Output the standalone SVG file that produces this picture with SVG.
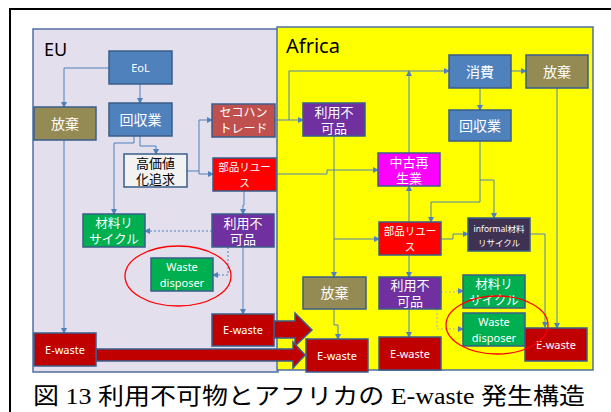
<svg xmlns="http://www.w3.org/2000/svg" width="611" height="412" viewBox="0 0 611 412">
<style>
.n{stroke:#385d8a;stroke-width:1.5}
.t{font-family:"Noto Sans","Noto Sans CJK JP",sans-serif;fill:#fff;text-anchor:middle}
.c{fill:none;stroke:#4f81bd;stroke-width:1;marker-end:url(#a)}
.d{fill:none;stroke:#4f81bd;stroke-width:1;stroke-dasharray:2 2;marker-end:url(#a)}
.dy{fill:none;stroke:#b8b89a;stroke-width:1.2;stroke-dasharray:2 2;marker-end:url(#a)}
.blue{fill:#4f81bd}.olive{fill:#948a54}.purple{fill:#7030a0}.green{fill:#00b050}.dred{fill:#c00000}.red{fill:#ff0000}
.big{fill:#c00000;stroke:#385d8a;stroke-width:1.5}
</style>
<defs>
<marker id="a" markerWidth="6" markerHeight="6" refX="5" refY="3" orient="auto" markerUnits="userSpaceOnUse">
<path d="M0,0 L6,3 L0,6 z" fill="#4f81bd"/>
</marker>
</defs>
<rect width="611" height="412" fill="#fff"/>
<path d="M10,412 V9 H611" fill="none" stroke="#000" stroke-width="2"/>

<g id="eu-region">
<rect x="33" y="29" width="245" height="343" fill="#e4dfec" stroke="#4f6fa0" stroke-width="1.5"/>
<text x="44" y="56" font-family="Noto Sans,Liberation Sans,sans-serif" font-size="18" fill="#000">EU</text>
</g>
<g id="africa-region">
<rect x="277" y="27" width="316" height="343" fill="#ffff00" stroke="#4f6fa0" stroke-width="1.5"/>
<text x="286" y="53" font-family="Noto Sans,Liberation Sans,sans-serif" font-size="20" fill="#000">Africa</text>
</g>

<g id="connectors">
<path class="c" d="M109,68 H64 V107"/>
<path class="c" d="M140,84 V103"/>
<path class="c" d="M134,136 V143 H114 V214"/>
<path class="c" d="M140,136 V146 H156 V154"/>
<path class="c" d="M187,171 H199 V120 H212"/>
<path class="c" d="M199,171 V174 H213"/>
<path class="c" d="M244,191 V205 H243 V214"/>
<path class="d" d="M212,231 H145"/>
<path class="d" d="M228,247 V275 H213"/>
<path class="c" d="M243,247 V314"/>
<path class="c" d="M64,140 V333"/>
<path class="c" d="M275,120 H303"/>
<path class="c" d="M289,120 V71 H449"/>
<path class="c" d="M409,153 V71"/>
<path class="c" d="M276,174 H327 V170 H378"/>
<path class="c" d="M409,222 V186"/>
<path class="c" d="M334,136 V277"/>
<path class="c" d="M334,239 H379"/>
<path class="c" d="M480,88 V110"/>
<path class="c" d="M511,71 H526"/>
<path class="c" d="M480,141 V202 H431 V222"/>
<path class="c" d="M480,180 H494 V218"/>
<path class="c" d="M441,239 H453 V234 H468"/>
<path class="c" d="M530,234 H545 V327"/>
<path class="c" d="M557,88 V328"/>
<path class="c" d="M409,255 V277"/>
<path class="c" d="M334,309 V325 H338 V339"/>
<path class="c" d="M409,309 V337"/>
<path class="dy" d="M441,292 H455 V291 H463"/>
<path class="dy" d="M427,307 H437 V329 H463"/>
</g>

<g id="big-arrows">
<path class="big" d="M274,321 H295 V313 L312,330 L295,346 V338 H274 z"/>
<path class="big" d="M96,349 H293 V342 L305,355 L293,368 V361 H96 z"/>
</g>

<g id="eu-eol"><rect class="n blue" x="109" y="51" width="63" height="33"/><text class="t" x="140.5" y="71.5" font-size="11">EoL</text></g>
<g id="eu-houki"><rect class="n olive" x="34" y="107" width="62" height="33"/><text class="t" x="65" y="128.5" font-size="14">放棄</text></g>
<g id="eu-kaishu"><rect class="n blue" x="109" y="103" width="63" height="33"/><text class="t" x="140.5" y="124.5" font-size="14">回収業</text></g>
<g id="eu-secohan"><rect class="n" fill="#c0504d" x="212" y="104" width="63" height="33"/><text class="t" x="243.5" y="116.5" font-size="12">セコハン</text><text class="t" x="243.5" y="132.5" font-size="12">トレード</text></g>
<g id="eu-koukachi"><rect class="n" fill="#f2f2f2" x="124" y="154" width="63" height="33"/><text class="t" x="155.5" y="167.5" font-size="13" style="fill:#000">高価値</text><text class="t" x="155.5" y="183.5" font-size="13" style="fill:#000">化追求</text></g>
<g id="eu-buhin"><rect class="n red" x="213" y="158" width="63" height="33"/><text class="t" x="244.5" y="171" font-size="10.5">部品リユー</text><text class="t" x="244.5" y="186.5" font-size="10.5">ス</text></g>
<g id="eu-zairyo"><rect class="n green" x="83" y="214" width="62" height="33"/><text class="t" x="114" y="227.5" font-size="12.5">材料リ</text><text class="t" x="114" y="243.5" font-size="12.5">サイクル</text></g>
<g id="eu-riyoufuka"><rect class="n purple" x="212" y="214" width="62" height="33"/><text class="t" x="243" y="227.5" font-size="13">利用不</text><text class="t" x="243" y="243.5" font-size="13">可品</text></g>
<g id="eu-waste-disposer"><rect class="n green" x="151" y="258" width="62" height="33"/><text class="t" x="182" y="271" font-size="11">Waste</text><text class="t" x="182" y="287" font-size="11">disposer</text></g>
<g id="eu-ewaste1"><rect class="n dred" x="212" y="314" width="62" height="32"/><text class="t" x="243" y="334" font-size="11">E-waste</text></g>
<g id="eu-ewaste2"><rect class="n dred" x="34" y="333" width="62" height="33"/><text class="t" x="65" y="353.5" font-size="11">E-waste</text></g>

<g id="af-shouhi"><rect class="n blue" x="449" y="55" width="62" height="33"/><text class="t" x="480" y="76.5" font-size="14">消費</text></g>
<g id="af-houki1"><rect class="n olive" x="526" y="55" width="62" height="33"/><text class="t" x="557" y="76.5" font-size="14">放棄</text></g>
<g id="af-kaishu"><rect class="n blue" x="449" y="110" width="62" height="31"/><text class="t" x="480" y="130.5" font-size="14">回収業</text></g>
<g id="af-riyoufuka1"><rect class="n purple" x="303" y="103" width="62" height="33"/><text class="t" x="334" y="116.5" font-size="13">利用不</text><text class="t" x="334" y="132.5" font-size="13">可品</text></g>
<g id="af-chuko"><rect class="n" fill="#ff00ff" x="378" y="153" width="62" height="33"/><text class="t" x="409" y="166.5" font-size="13">中古再</text><text class="t" x="409" y="182.5" font-size="13">生業</text></g>
<g id="af-buhin"><rect class="n red" x="379" y="222" width="62" height="33"/><text class="t" x="410" y="235" font-size="10.5">部品リユー</text><text class="t" x="410" y="250.5" font-size="10.5">ス</text></g>
<g id="af-informal"><rect class="n" fill="#3f3151" x="468" y="218" width="62" height="33"/><text class="t" x="499" y="231.5" font-size="8.5">informal材料</text><text class="t" x="499" y="245.5" font-size="8.5">リサイクル</text></g>
<g id="af-houki2"><rect class="n olive" x="303" y="277" width="63" height="32"/><text class="t" x="334.5" y="298" font-size="14">放棄</text></g>
<g id="af-riyoufuka2"><rect class="n purple" x="379" y="277" width="62" height="32"/><text class="t" x="410" y="290" font-size="13">利用不</text><text class="t" x="410" y="306" font-size="13">可品</text></g>
<g id="af-zairyo"><rect class="n green" x="463" y="275" width="62" height="33"/><text class="t" x="494" y="288.5" font-size="12.5">材料リ</text><text class="t" x="494" y="304.5" font-size="12.5">サイクル</text></g>
<g id="af-waste-disposer"><rect class="n green" x="463" y="313" width="62" height="33"/><text class="t" x="494" y="326" font-size="11">Waste</text><text class="t" x="494" y="342" font-size="11">disposer</text></g>
<g id="af-ewaste-right"><rect class="n dred" x="525" y="328" width="62" height="33"/><text class="t" x="556" y="348.5" font-size="11">E-waste</text></g>
<g id="af-ewaste-left"><rect class="n dred" x="306" y="339" width="62" height="33"/><text class="t" x="337" y="359.5" font-size="11">E-waste</text></g>
<g id="af-ewaste-mid"><rect class="n dred" x="379" y="337" width="62" height="33"/><text class="t" x="410" y="357.5" font-size="11">E-waste</text></g>

<g id="highlights">
<ellipse cx="178" cy="276" rx="53" ry="30" fill="none" stroke="#ff0000" stroke-width="1.3"/>
<ellipse cx="497" cy="325" rx="51" ry="29" fill="none" stroke="#ff0000" stroke-width="1.3"/>
</g>

<text x="33" y="404" font-family="Liberation Serif,Noto Sans CJK JP,serif" font-size="23" fill="#000" textLength="552" lengthAdjust="spacingAndGlyphs">図 13 利用不可物とアフリカの E-waste 発生構造</text>
</svg>
